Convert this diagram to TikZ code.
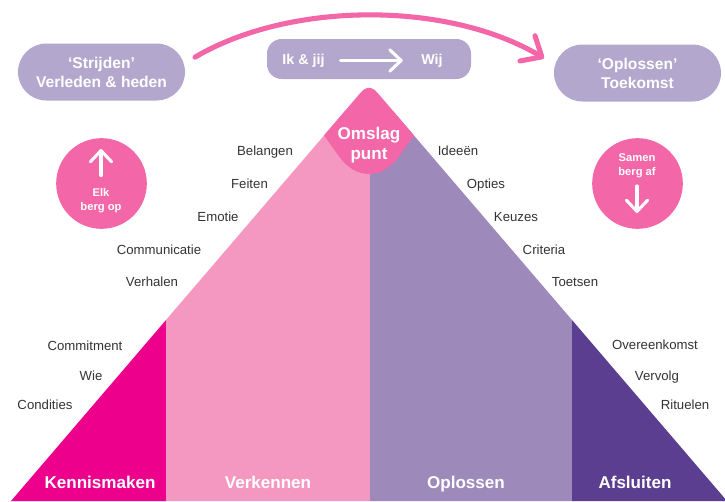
\documentclass[tikz,border=0pt]{standalone}
\usepackage{xcolor}
\usepackage{fontspec}
\setmainfont{Liberation Sans}
\usepackage{tikz}
\usetikzlibrary{arrows, arrows.meta}
\definecolor{roze}{HTML}{F366A7}
\definecolor{lichtroze}{HTML}{F498C1}
\definecolor{magenta}{HTML}{EC008C}
\definecolor{paars}{HTML}{9E8ABA}
\definecolor{donkerpaars}{HTML}{5B3E8F}
\definecolor{pilpaars}{HTML}{B4A7CD}
\definecolor{tekst}{HTML}{333333}

\begin{document}
\begin{tikzpicture}[x=.75pt, y=-.75pt]
\tikzstyle{pil}=[fill=pilpaars, text=white, font=\bfseries\fontsize{11.7}{14.2}\selectfont, align=center, minimum width=125.25pt, minimum height=42.75pt, inner sep=0pt, rounded corners=21.3pt, outer sep=7.5pt]
\tikzstyle{woord}=[text=tekst, font=\fontsize{9.9}{12}\selectfont, inner sep=0pt, text height=.72em, text depth=.2em]
\tikzstyle{fase}=[text=white, font=\bfseries\fontsize{12.8}{15}\selectfont, inner sep=0pt, text height=.72em, text depth=.2em]
\tikzstyle{rondje}=[circle, fill=roze, minimum size=68pt, inner sep=0pt]
\tikzstyle{klein}=[text=white, font=\bfseries\fontsize{8.4}{10.5}\selectfont, align=center, inner sep=0pt]
\tikzstyle{witpijl}=[draw=white, line width=2.3pt, line cap=round, -{Straight Barb[round, length=8.5pt, width=16pt]}]
\useasboundingbox (0,0) rectangle (725,501);

\fill[magenta] (11,501) -- (166,320) -- (166,501) -- cycle;
\fill[lichtroze] (166,501) -- (166,320) -- (345,111) -- (370,111) -- (370,501) -- cycle;
\fill[paars] (370,501) -- (370,111) -- (393,111) -- (572,320) -- (572,501) -- cycle;
\fill[donkerpaars] (572,501) -- (572,320) -- (727,501) -- cycle;
\fill[roze] (324,135.4) -- (338,155) .. controls (347,168) and (358,174) .. (369,174)
  .. controls (380,174) and (391,168) .. (400,155) -- (414,135.4) -- (378,93.4)
  .. controls (372,86) and (366,86) .. (360,93.4) -- cycle;

\node[pil] (strijden) at (101.5,72) {‘Strijden’\\Verleden \& heden};
\node[pil] (oplossen) at (637.5,73) {‘Oplossen’\\Toekomst};
\node[pil, minimum width=153pt, minimum height=30pt, rounded corners=11pt, outer sep=0pt] (midden) at (369,59) {};
\node[text=white, font=\bfseries\fontsize{10.7}{13}\selectfont, inner sep=0pt, outer sep=12pt] (ik) at (303.5,60.5) {Ik \& jij};
\node[text=white, font=\bfseries\fontsize{10.7}{13}\selectfont, inner sep=0pt, outer sep=14pt] (wij) at (432,60.5) {Wij};
\node[text=white, font=\bfseries\fontsize{12.8}{15}\selectfont, align=center, inner sep=0pt] (omslag) at (369,145) {Omslag\\punt};

\node[rondje] (op) at (101.5,183.5) {};
\node[rondje] (af) at (637.5,183.5) {};
\node[klein] (elk) at (101,201) {Elk\\berg op};
\node[klein] (samen) at (637,166) {Samen\\berg af};
\coordinate (opvoet) at (101,175.5);
\coordinate (optop) at (101,149);
\coordinate (afvoet) at (637,186);
\coordinate (aftop) at (637,213);

\node[woord] (belangen) at (265,152.5) {Belangen};
\node[woord] (feiten) at (249.5,185.5) {Feiten};
\node[woord] (emotie) at (218,218.5) {Emotie};
\node[woord] (communicatie) at (159,251.5) {Communicatie};
\node[woord] (verhalen) at (152,283.5) {Verhalen};
\node[woord] (ideeen) at (458,152.5) {Ideeën};
\node[woord] (opties) at (486,185.5) {Opties};
\node[woord] (keuzes) at (516,218.5) {Keuzes};
\node[woord] (criteria) at (544,251.5) {Criteria};
\node[woord] (toetsen) at (575,283.5) {Toetsen};
\node[woord] (commitment) at (85,347.5) {Commitment};
\node[woord] (wie) at (91,377.5) {Wie};
\node[woord] (condities) at (45,406.5) {Condities};
\node[woord] (overeenkomst) at (655,346.5) {Overeenkomst};
\node[woord] (vervolg) at (657,377.5) {Vervolg};
\node[woord] (rituelen) at (685,406.5) {Rituelen};

\node[fase] (kennismaken) at (100,485.5) {Kennismaken};
\node[fase] (verkennen) at (268,485.5) {Verkennen};
\node[fase] (oplossenfase) at (466,485.5) {Oplossen};
\node[fase] (afsluiten) at (635,485.5) {Afsluiten};

\path
(ik) edge[witpijl] (wij)
(opvoet) edge[witpijl] (optop)
(afvoet) edge[witpijl] (aftop);

\draw[draw=roze, line width=3.8pt, line cap=round, -{Straight Barb[round, length=12.5pt, width=22pt]}]
  (strijden.9.41) .. controls (290,1) and (448,1) .. (oplossen.171.5);

\end{tikzpicture}
\end{document}
